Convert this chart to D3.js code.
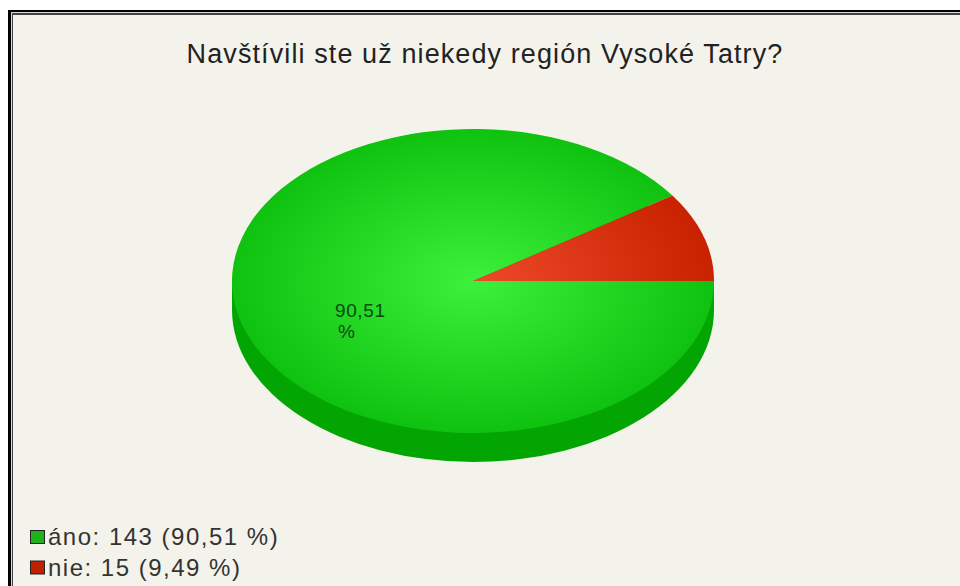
<!DOCTYPE html>
<head>
    <meta charset="utf-8">
    <script src="https://d3js.org/d3.v7.min.js"></script>
    <style>
      html, body { margin: 0; padding: 0; background: #fff; }
      svg { display: block; }
      text { font-family: "Liberation Sans", Arial, sans-serif; }
    </style>
</head>

<body>
    <div id="chart"></div>
</body>

<script>
  const title = "Navštívili ste už niekedy región Vysoké Tatry?";
  const categories = ["áno", "nie"];
  const counts = [143, 15];
  const percents = ["90,51", "9,49"];
  const legendLabels = ["áno: 143 (90,51 %)", "nie: 15 (9,49 %)"];

  const width = 960, height = 586;
  const cx = 473, cy = 281, rx = 241, ry = 152, depth = 29;

  const svg = d3.select("#chart").append("svg")
    .attr("width", width)
    .attr("height", height);

  // background + the double frame round the screenshot
  svg.append("rect").attr("width", width).attr("height", height).attr("fill", "#fff");
  svg.append("rect").attr("x", 8).attr("y", 10).attr("width", 960).attr("height", 600).attr("fill", "#000");
  svg.append("rect").attr("x", 11).attr("y", 12).attr("width", 960).attr("height", 600).attr("fill", "#d8d8d8");
  svg.append("rect").attr("x", 12).attr("y", 13).attr("width", 960).attr("height", 600).attr("fill", "#444");
  svg.append("rect").attr("x", 13).attr("y", 15).attr("width", 960).attr("height", 600).attr("fill", "#f4f3eb");

  const defs = svg.append("defs");
  const grad = (id, inner, outer) => {
    const g = defs.append("radialGradient").attr("id", id)
      .attr("gradientUnits", "userSpaceOnUse")
      .attr("cx", 0).attr("cy", 0).attr("r", rx);
    g.append("stop").attr("offset", "0%").attr("stop-color", inner);
    g.append("stop").attr("offset", "100%").attr("stop-color", outer);
  };
  grad("g0", "#3cf03c", "#0fc20f");
  grad("g1", "#ee4a2a", "#c82200");

  const sideColor = "#03a503";
  const legendColor = ["#1db31d", "#c01f00"];

  // first slice runs clockwise from 3 o'clock, so the red one ends there
  const pie = d3.pie().sort(null)
    .startAngle(Math.PI / 2)
    .endAngle(Math.PI / 2 + 2 * Math.PI);
  const slices = pie(counts);
  const arc = d3.arc().innerRadius(0).outerRadius(rx);

  // side of the pie
  svg.append("g")
    .attr("transform", `translate(${cx},${cy + depth}) scale(1,${ry / rx})`)
    .append("path")
    .attr("d", arc({startAngle: 0, endAngle: 2 * Math.PI}))
    .attr("fill", sideColor);
  svg.append("rect")
    .attr("x", cx - rx).attr("y", cy)
    .attr("width", 2 * rx).attr("height", depth)
    .attr("fill", sideColor);

  // top of the pie
  const pieTop = svg.append("g")
    .attr("transform", `translate(${cx},${cy}) scale(1,${ry / rx})`);
  pieTop.selectAll("path")
    .data(slices)
    .join("path")
    .attr("d", arc)
    .attr("fill", (d, i) => `url(#g${i})`);

  // title
  svg.append("text")
    .attr("x", 485).attr("y", 63)
    .attr("text-anchor", "middle")
    .attr("font-size", 27)
    .attr("letter-spacing", 1.1)
    .attr("fill", "#222")
    .text(title);

  // label on the slice, wrapped on two lines
  const label = svg.append("text")
    .attr("font-size", 19)
    .attr("letter-spacing", 0.6)
    .attr("fill", "#0a4a10");
  label.append("tspan").attr("x", 335).attr("y", 317).text(percents[0]);
  label.append("tspan").attr("x", 338).attr("y", 338).text("%");

  // legend
  const legend = svg.selectAll("g.legend")
    .data(legendLabels)
    .join("g")
    .attr("class", "legend")
    .attr("transform", (d, i) => `translate(30,${537 + i * 30.5})`);
  legend.append("rect")
    .attr("x", 0.5).attr("y", -6.5)
    .attr("width", 14).attr("height", 13)
    .attr("fill", (d, i) => legendColor[i])
    .attr("stroke", "#222");
  legend.append("text")
    .attr("x", 18).attr("y", 8)
    .attr("font-size", 24)
    .attr("letter-spacing", 1.5)
    .attr("fill", "#333")
    .text(d => d);
</script>
